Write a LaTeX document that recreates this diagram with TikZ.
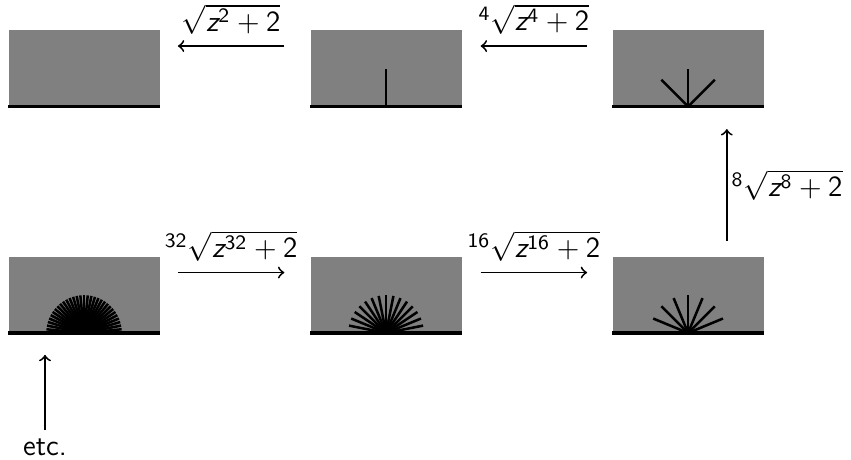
\documentclass[tikz,border=0pt]{standalone}
\usepackage{amsmath}
\renewcommand{\familydefault}{\sfdefault}

\definecolor{boxGray}{HTML}{808080}

% sans root label: index, exponent
\newcommand{\sroot}[2]{%
  ${}^{\text{#1}}\sqrt{\text{\itshape z}^{\text{#2}}+\text{2}}$}

\tikzset{
  slab/.style={fill=boxGray,minimum width=2cm,minimum height=1cm,inner sep=0pt,anchor=south west},
  floor/.style={line width=1.2pt},
  ray/.style={line width=0.95pt},
  stage/.style={->,line width=0.7pt},
  tag/.style={inner sep=0.5pt}
}

\newcommand{\fan}[2]{%
  % #1 = box name, #2 = number of sectors
  \draw[floor] (#1.south west) -- (#1.south east);
  \ifnum#2>1
    \pgfmathtruncatemacro{\last}{#2-1}
    \foreach \k in {1,...,\last} {
      \draw[ray] (#1.south) -- ++({180*\k/#2}:0.5);
    }
  \fi
}

\begin{document}
\begin{tikzpicture}[font=\fontsize{11}{13.6}\selectfont]

  \useasboundingbox (-0.106,-1.68) rectangle (11.165,4.41);

  % Boxes, top row
  \node[slab] (b2) at (0,3) {};
  \node[slab] (b4) at (4,3) {};
  \node[slab] (b8) at (8,3) {};

  % Boxes, bottom row
  \node[slab] (b64) at (0,0) {};
  \node[slab] (b32) at (4,0) {};
  \node[slab] (b16) at (8,0) {};

  % Rays
  \fan{b2}{1}
  \fan{b4}{2}
  \fan{b8}{4}
  \fan{b16}{8}
  \fan{b32}{16}
  \fan{b64}{32}

  % Arrow ends
  \coordinate (t1a) at (2.25,3.8);
  \coordinate (t1b) at (3.66,3.8);
  \coordinate (t2a) at (6.26,3.8);
  \coordinate (t2b) at (7.67,3.8);
  \coordinate (s1a) at (2.25,0.8);
  \coordinate (s1b) at (3.66,0.8);
  \coordinate (s2a) at (6.26,0.8);
  \coordinate (s2b) at (7.67,0.8);
  \coordinate (u1) at (9.52,1.22);
  \coordinate (u2) at (9.52,2.70);
  \coordinate (e1) at (0.49,-1.28);
  \coordinate (e2) at (0.49,-0.29);

  % Arrows
  \draw[stage] (t1b) -- node[tag,above=3.5pt] {$\sqrt{\text{\itshape z}^{\text{2}}+\text{2}}$} (t1a);
  \draw[stage] (t2b) -- node[tag,above=3.5pt] {\sroot{4}{4}} (t2a);
  \draw[stage] (u1) -- node[tag,right=1pt] {\sroot{8}{8}} (u2);
  \draw[stage] (s2a) -- node[tag,above=3.5pt] {\sroot{16}{16}} (s2b);
  \draw[stage] (s1a) -- node[tag,above=3.5pt] {\sroot{32}{32}} (s1b);
  \draw[stage] (e1) -- (e2);

  \node[below] (etc) at (e1) {etc.};

\end{tikzpicture}
\end{document}
